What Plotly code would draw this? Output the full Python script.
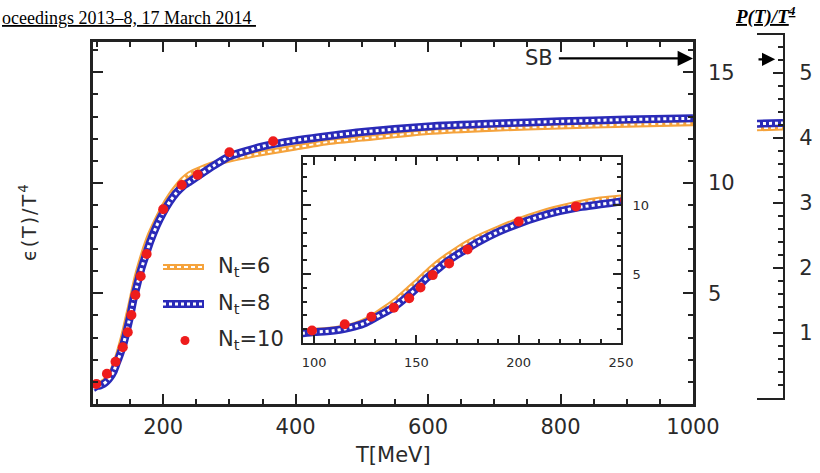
import plotly.graph_objects as go

W, H = 820, 473


def px(x):
    return x / W


def py(y):
    return 1 - y / H


# ---------------- data ----------------
T_curve = [94, 100, 105, 110, 115, 120, 125, 130, 135, 140, 145, 150, 155, 160, 165,
           170, 175, 180, 190, 200, 210, 220, 230, 240, 250, 275, 300, 350, 400, 450,
           500, 600, 700, 800, 900, 1000]
eps_nt8 = [0.7, 0.8, 0.83, 0.9, 1.02, 1.2, 1.45, 1.85, 2.25, 2.7, 3.3, 3.95, 4.7, 5.3, 5.9,
           6.4, 6.85, 7.3, 8.05, 8.65, 9.15, 9.55, 9.85, 10.05, 10.25, 10.75, 11.2, 11.65, 11.92, 12.12,
           12.3, 12.55, 12.68, 12.78, 12.86, 12.92]
eps_nt6 = [0.8, 0.88, 0.92, 1.0, 1.12, 1.32, 1.62, 2.05, 2.55, 3.1, 3.75, 4.4, 5.1, 5.75, 6.3,
           6.8, 7.25, 7.65, 8.3, 8.9, 9.4, 9.8, 10.15, 10.4, 10.55, 10.85, 11.05, 11.35, 11.6, 11.85,
           12.0, 12.3, 12.45, 12.55, 12.63, 12.7]
T_nt10 = [99, 115, 128, 139, 146.5, 152, 158, 166, 175, 200, 228, 252, 300, 366]
eps_nt10 = [0.9, 1.36, 1.9, 2.56, 3.24, 4.02, 4.92, 5.77, 6.78, 8.8, 9.9, 10.36, 11.38, 11.88]

T_p = [960, 1000]
p_nt6 = [4.15, 4.16]
p_nt8 = [4.22, 4.23]

eps_sb = 15.63
p_sb = 5.21

main_xticks = [200, 400, 600, 800, 1000]
main_yticks = [5, 10, 15]
inset_xticks = [100, 150, 200, 250]
inset_yticks = [5, 10]
p_yticks = [1, 2, 3, 4, 5]

ORANGE = '#f5a33c'
BLUE = '#2a2ab8'
RED = '#ee1c1c'
AX = '#222222'
TXT = '#2a2a2a'
FONT = 'DejaVu Sans'

fig = go.Figure()


def band(x, y, color, w, dw, dash, xa, ya):
    fig.add_trace(go.Scatter(x=x, y=y, mode='lines',
                             line=dict(color=color, width=w, shape='spline', smoothing=0.5),
                             xaxis=xa, yaxis=ya, showlegend=False, hoverinfo='skip'))
    fig.add_trace(go.Scatter(x=x, y=y, mode='lines',
                             line=dict(color='white', width=dw, dash=dash, shape='spline', smoothing=0.5),
                             xaxis=xa, yaxis=ya, showlegend=False, hoverinfo='skip'))


# main panel
band(T_curve, eps_nt6, ORANGE, 6, 2, '4px,3px', 'x', 'y')
band(T_curve, eps_nt8, BLUE, 8, 3, '3px,3px', 'x', 'y')
fig.add_trace(go.Scatter(x=T_nt10, y=eps_nt10, mode='markers',
                         marker=dict(color=RED, size=10), xaxis='x', yaxis='y',
                         showlegend=False, hoverinfo='skip'))
# inset
band(T_curve, eps_nt6, ORANGE, 6, 2, '4px,3px', 'x2', 'y2')
band(T_curve, eps_nt8, BLUE, 8, 3, '3px,3px', 'x2', 'y2')
fig.add_trace(go.Scatter(x=T_nt10, y=eps_nt10, mode='markers',
                         marker=dict(color=RED, size=10), xaxis='x2', yaxis='y2',
                         showlegend=False, hoverinfo='skip'))
# pressure panel stub
band(T_p, p_nt6, ORANGE, 6, 2, '4px,3px', 'x3', 'y3')
band(T_p, p_nt8, BLUE, 8, 3, '3px,3px', 'x3', 'y3')

common = dict(showline=True, linecolor=AX, ticks='inside', tickcolor=AX, tickwidth=2,
              showgrid=False, zeroline=False, automargin=False)

fig.update_layout(
    width=W, height=H, autosize=False,
    margin=dict(l=0, r=0, t=0, b=0, pad=0, autoexpand=False),
    paper_bgcolor='white', plot_bgcolor='white',
    showlegend=False,
    xaxis=dict(**common, domain=[px(93), px(693)], range=[94, 1000], linewidth=2.5,
               mirror='allticks', tickvals=main_xticks, ticklen=10,
               minor=dict(ticks='inside', dtick=50, tick0=0, ticklen=5, tickcolor=AX, tickwidth=2),
               tickfont=dict(family=FONT, size=21, color=TXT), ticklabelstandoff=2,
               anchor='y'),
    yaxis=dict(**common, domain=[py(403.8), py(42)], range=[0, (403.8 - 42) / 22.1], linewidth=2.5,
               mirror='allticks', side='right', tickvals=main_yticks, ticklen=10,
               minor=dict(ticks='inside', dtick=1, tick0=0, ticklen=5, tickcolor=AX, tickwidth=2),
               tickfont=dict(family=FONT, size=21, color=TXT), ticklabelstandoff=8,
               anchor='x'),
    xaxis2=dict(**common, domain=[px(303), px(621)], range=[94.6, 250], linewidth=2,
                mirror='allticks', tickvals=inset_xticks, ticklen=8,
                minor=dict(ticks='inside', dtick=10, tick0=0, ticklen=4, tickcolor=AX, tickwidth=1.5),
                tickfont=dict(family=FONT, size=13, color=TXT), ticklabelstandoff=6,
                anchor='y2'),
    yaxis2=dict(**common, domain=[py(343), py(157)], range=[0, 13.48], linewidth=2,
                mirror='allticks', side='right', tickvals=inset_yticks, ticklen=8,
                minor=dict(ticks='inside', dtick=1, tick0=0, ticklen=4, tickcolor=AX, tickwidth=1.5),
                tickfont=dict(family=FONT, size=13, color=TXT), ticklabelstandoff=7,
                anchor='x2'),
    xaxis3=dict(showline=True, linecolor=AX, linewidth=2, mirror=True, showgrid=False,
                zeroline=False, showticklabels=False, ticks='', automargin=False,
                domain=[px(757), px(783)], range=[960, 1000], anchor='y3'),
    yaxis3=dict(**common, domain=[py(398), py(35)], range=[0, (398 - 35) / 65], linewidth=2,
                side='right', tickvals=p_yticks, ticklen=10,
                minor=dict(ticks='inside', dtick=0.2, tick0=0, ticklen=5, tickcolor=AX, tickwidth=1.5),
                tickfont=dict(family=FONT, size=21, color=TXT), ticklabelstandoff=10,
                anchor='x3'),
)

ann = []
ann.append(dict(text='<u>oceedings 2013–8, 17 March 2014 </u>', x=0, y=py(18), xref='paper', yref='paper',
                xanchor='left', yanchor='middle', showarrow=False,
                font=dict(family='Liberation Serif', size=18, color='black')))
ann.append(dict(text='<u><b><i>P(T)/T<sup>4</sup></i></b></u>', x=px(765), y=py(15), xref='paper', yref='paper',
                xanchor='center', yanchor='middle', showarrow=False,
                font=dict(family='Liberation Serif', size=19, color='black')))
ann.append(dict(text='<span style="letter-spacing:2px">ϵ(T)/T<sup>4</sup></span>', x=px(28), y=py(222),
                xref='paper', yref='paper',
                xanchor='center', yanchor='middle', showarrow=False, textangle=-90,
                font=dict(family=FONT, size=19, color=TXT)))
ann.append(dict(text='T[MeV]', x=px(393), y=py(455), xref='paper', yref='paper',
                xanchor='center', yanchor='middle', showarrow=False,
                font=dict(family=FONT, size=21, color=TXT)))
ann.append(dict(text='SB', x=1000, y=eps_sb, xref='x', yref='y', ax=768, ay=eps_sb,
                axref='x', ayref='y', showarrow=True, arrowhead=2, arrowsize=1.4, arrowwidth=2.2,
                arrowcolor='black', standoff=0, startstandoff=4,
                font=dict(family=FONT, size=21, color=TXT)))
ann.append(dict(text='', x=988, y=p_sb, xref='x3', yref='y3', ax=960, ay=p_sb,
                axref='x3', ayref='y3', showarrow=True, arrowhead=2, arrowsize=1.2, arrowwidth=2.2,
                arrowcolor='black', standoff=0))
legend_rows = [('N<sub>t</sub>=6', 267), ('N<sub>t</sub>=8', 304), ('N<sub>t</sub>=10', 340)]
for txt, yy in legend_rows:
    ann.append(dict(text=txt, x=px(216), y=py(yy), xref='paper', yref='paper',
                    xanchor='left', yanchor='middle', showarrow=False,
                    font=dict(family=FONT, size=21, color=TXT)))
fig.update_layout(annotations=ann)

shapes = []
# legend samples
shapes.append(dict(type='line', xref='paper', yref='paper', x0=px(163), x1=px(204), y0=py(267), y1=py(267),
                   line=dict(color=ORANGE, width=6)))
shapes.append(dict(type='line', xref='paper', yref='paper', x0=px(163), x1=px(204), y0=py(267), y1=py(267),
                   line=dict(color='white', width=2, dash='4px,3px')))
shapes.append(dict(type='line', xref='paper', yref='paper', x0=px(163), x1=px(204), y0=py(304), y1=py(304),
                   line=dict(color=BLUE, width=8)))
shapes.append(dict(type='line', xref='paper', yref='paper', x0=px(163), x1=px(204), y0=py(304), y1=py(304),
                   line=dict(color='white', width=3, dash='3px,3px')))
shapes.append(dict(type='circle', xref='paper', yref='paper', x0=px(180.5), x1=px(189.5),
                   y0=py(345), y1=py(336), fillcolor=RED, line=dict(width=0)))
fig.update_layout(shapes=shapes)

fig.write_html('out.html', config={'responsive': False, 'displayModeBar': False},
               post_script="document.body.style.margin='0';document.body.style.overflow='hidden';")
